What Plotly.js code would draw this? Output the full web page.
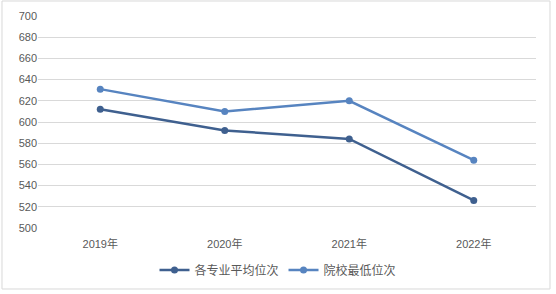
<!DOCTYPE html>
<html><head><meta charset="utf-8">
<script src="https://cdn.plot.ly/plotly-3.0.1.min.js"></script>
<style>html,body{margin:0;padding:0;background:#fff;}#c{width:556px;height:294px;}</style>
</head><body><div id="c"></div>
<script>
const categories = ['2019年','2020年','2021年','2022年'];
const avgRank = [612, 592, 584, 526];
const minRank = [631, 610, 620, 564];
const seriesNames = ['各专业平均位次','院校最低位次'];
const yTicks = [500,520,540,560,580,600,620,640,660,680,700];

const font = {family: 'Liberation Sans, Arial, "Noto Sans CJK SC", sans-serif', size: 11, color: '#595959'};
const traces = [
  {x: categories, y: avgRank, name: seriesNames[0], type: 'scatter', mode: 'lines+markers',
   line: {color: '#3f608f', width: 2.5}, marker: {color: '#3f608f', size: 7}},
  {x: categories, y: minRank, name: seriesNames[1], type: 'scatter', mode: 'lines+markers',
   line: {color: '#5784c0', width: 2.5}, marker: {color: '#5784c0', size: 7}}
];
const layout = {
  width: 556, height: 294,
  margin: {l: 38, r: 20, t: 16, b: 66, autoexpand: false},
  paper_bgcolor: '#fff', plot_bgcolor: '#fff',
  font: font,
  showlegend: true,
  legend: {orientation: 'h', x: 0.5, xanchor: 'center', xref: 'container', y: 0.082, yanchor: 'middle', yref: 'container',
           font: {family: '"Noto Sans CJK SC", sans-serif', size: 12, color: '#595959'}, itemwidth: 30, tracegroupgap: 0},
  xaxis: {type: 'category', range: [-0.5, 3.5], showgrid: false, zeroline: false, showline: false,
          ticks: '', ticklabelstandoff: 8, automargin: false,
          tickfont: {family: 'Liberation Sans, "Noto Sans CJK SC", sans-serif', size: 11, color: '#595959'}, fixedrange: true},
  yaxis: {range: [500, 700], tickvals: yTicks, showgrid: true, gridcolor: '#d9d9d9', gridwidth: 1,
          zeroline: false, showline: false, ticks: '', ticklen: 0, automargin: false,
          tickfont: {family: 'Liberation Sans, sans-serif', size: 11, color: '#595959'}, fixedrange: true},
  shapes: [{type: 'rect', xref: 'paper', yref: 'paper', x0: -0.0723, x1: 1.0281, y0: -0.2877, y1: 1.0708,
            line: {color: '#d9d9d9', width: 1}, fillcolor: 'rgba(0,0,0,0)', layer: 'below'}]
};
Plotly.newPlot('c', traces, layout, {displayModeBar: false, staticPlot: true});
</script></body></html>
